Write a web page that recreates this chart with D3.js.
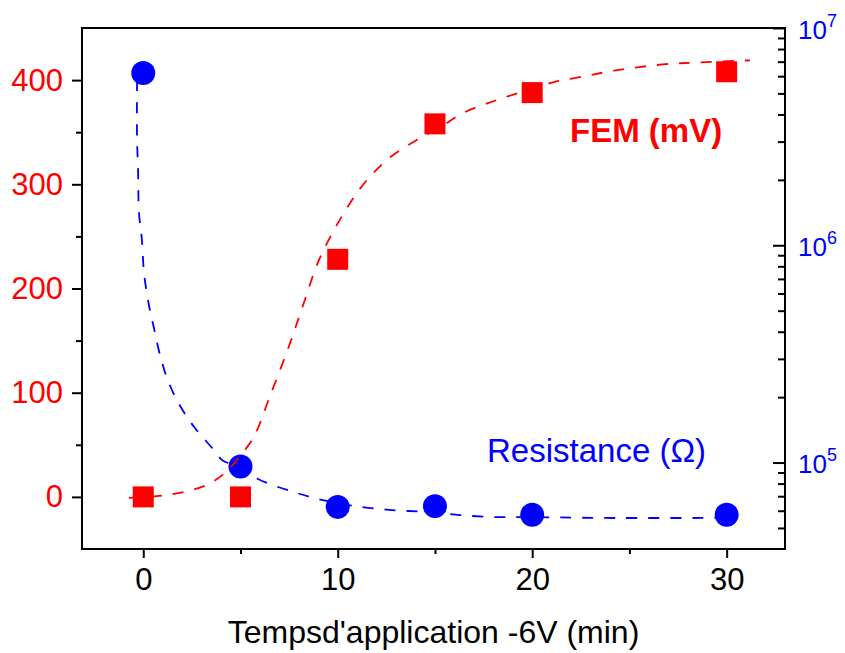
<!DOCTYPE html>
<html>
<head>
<meta charset="utf-8">
<script src="https://cdn.jsdelivr.net/npm/d3@7"></script>
<style>
  html, body { margin: 0; padding: 0; background: #fff; }
  svg text { font-family: "Liberation Sans", Arial, sans-serif; }
</style>
</head>
<body>
<svg id="chart" width="845" height="653"></svg>
<script>
// ---------- data ----------
const times = [0, 5, 10, 15, 20, 30];
const femValues = [0, 0, 228, 358, 388, 408];              // mV (left axis)
const resistanceValues = [6.2e6, 9.6e4, 6.25e4, 6.3e4, 5.75e4, 5.75e4]; // Ohm (right, log)

// fitted (dashed) curves
const femFitX = [-0.74, 1.3, 3.2, 4.2, 5.1, 5.7, 6.5, 7.5, 8.2, 9.1, 10.5, 11.5, 12.7, 14.1, 15.3, 16.4, 18.2, 19.9, 21.1, 22.5, 24.2, 26.7, 28.6, 31.2];
const femFitY = [-1, 2, 11, 23, 42, 58, 96, 145, 183, 230, 278, 304, 326, 343, 355, 368, 381, 391, 398, 403, 409, 415, 417, 419];
const resFitX = [-0.32, -0.32, -0.27, -0.22, -0.07, 0.04, 0.29, 0.55, 0.86, 1.22, 1.78, 2.61, 3.53, 4.1, 4.92, 5.9, 7.75, 9.24, 10.83, 12.78, 14.9, 16.28, 18.08, 19.93, 23.48, 30];
const resFitY = [5.75e6, 3.05e6, 2.29e6, 1.41e6, 1.06e6, 7.45e5, 5.31e5, 4.16e5, 3.13e5, 2.45e5, 1.9e5, 1.46e5, 1.17e5, 1.02e5, 9.64e4, 8.4e4, 7.31e4, 6.71e4, 6.31e4, 6.04e4, 5.91e4, 5.73e4, 5.61e4, 5.61e4, 5.56e4, 5.56e4];

const xTicks = [0, 10, 20, 30];
const xMinorTicks = [5, 15, 25];
const leftTicks = [0, 100, 200, 300, 400];
const leftMinorTicks = [50, 150, 250, 350];
const rightTicks = [1e5, 1e6, 1e7];
const rightTickExp = ["5", "6", "7"];
const rightMinorTicks = [5e4, 6e4, 7e4, 8e4, 9e4, 2e5, 3e5, 4e5, 5e5, 6e5, 7e5, 8e5, 9e5, 2e6, 3e6, 4e6, 5e6, 6e6, 7e6, 8e6, 9e6];

const xTitle = "Tempsd'application -6V (min)";
const femLabel = "FEM (mV)";
const resLabel = "Resistance (\u03A9)";

// ---------- layout ----------
const RED = "#ff0000", BLUE = "#0000ff";
const L = 82, R = 785, T = 28, B = 549;
const svg = d3.select("#chart");

const x = d3.scaleLinear().domain([-3.15, 33]).range([L, R]);
const yL = d3.scaleLinear().domain([-50, 450]).range([B, T]);
const yR = d3.scaleLog().domain([4e4, 1e7]).range([B, T]);

// frame
svg.append("rect").attr("x", L).attr("y", T).attr("width", R - L).attr("height", B - T)
  .attr("fill", "none").attr("stroke", "#000").attr("stroke-width", 2);

function styleAxis(g, color) {
  g.select(".domain").remove();
  g.selectAll(".tick line").attr("stroke", "#000").attr("stroke-width", 2);
  g.selectAll(".tick text").attr("fill", color);
}

// bottom axis
const gx = svg.append("g").attr("transform", `translate(0,${B})`)
  .call(d3.axisBottom(x).tickValues(xTicks).tickSize(9).tickPadding(10).tickFormat(d3.format("d")));
styleAxis(gx, "#000");
gx.selectAll(".tick text").style("font-size", "31px");
const gxm = svg.append("g").attr("transform", `translate(0,${B})`)
  .call(d3.axisBottom(x).tickValues(xMinorTicks).tickSize(5).tickFormat(""));
styleAxis(gxm, "#000");

// left axis
const gl = svg.append("g").attr("transform", `translate(${L},0)`)
  .call(d3.axisLeft(yL).tickValues(leftTicks).tickSize(10).tickPadding(9).tickFormat(d3.format("d")));
styleAxis(gl, RED);
gl.selectAll(".tick text").style("font-size", "31px");
const glm = svg.append("g").attr("transform", `translate(${L},0)`)
  .call(d3.axisLeft(yL).tickValues(leftMinorTicks).tickSize(6).tickFormat(""));
styleAxis(glm, RED);

// right axis (log) - ticks inward
const gr = svg.append("g").attr("transform", `translate(${R},0)`)
  .call(d3.axisRight(yR).tickValues(rightTicks).tickSize(-12).tickPadding(13).tickFormat(""));
styleAxis(gr, BLUE);
gr.selectAll(".tick").each(function(d, i) {
  const t = d3.select(this).append("text")
    .attr("x", 13).attr("y", 10).attr("fill", BLUE).attr("text-anchor", "start")
    .style("font-size", "26px");
  t.append("tspan").text("10");
  t.append("tspan").attr("dy", -12).style("font-size", "18px").text(rightTickExp[i]);
});
const grm = svg.append("g").attr("transform", `translate(${R},0)`)
  .call(d3.axisRight(yR).tickValues(rightMinorTicks).tickSize(-7).tickFormat(""));
styleAxis(grm, BLUE);

// curves
const femFit = femFitX.map((v, i) => [v, femFitY[i]]);
const resFit = resFitX.map((v, i) => [v, resFitY[i]]);
const lineFem = d3.line().x(d => x(d[0])).y(d => yL(d[1])).curve(d3.curveCatmullRom.alpha(0.5));
const lineRes = d3.line().x(d => x(d[0])).y(d => yR(d[1])).curve(d3.curveCatmullRom.alpha(0.5));

// resistance markers + curve
svg.append("path").datum(resFit).attr("d", lineRes)
  .attr("fill", "none").attr("stroke", BLUE).attr("stroke-width", 1.8).attr("stroke-dasharray", "11,11");
svg.append("g").selectAll("circle").data(times).join("circle")
  .attr("cx", d => x(d)).attr("cy", (d, i) => yR(resistanceValues[i])).attr("r", 12)
  .attr("fill", BLUE);

// FEM markers + curve
const S = 21;
svg.append("g").selectAll("rect").data(times).join("rect")
  .attr("x", d => x(d) - S / 2).attr("y", (d, i) => yL(femValues[i]) - S / 2)
  .attr("width", S).attr("height", S).attr("fill", RED);
svg.append("path").datum(femFit).attr("d", lineFem)
  .attr("fill", "none").attr("stroke", RED).attr("stroke-width", 1.8).attr("stroke-dasharray", "11,11");

// labels
svg.append("text").attr("x", (L + R) / 2).attr("y", 643).attr("text-anchor", "middle")
  .style("font-size", "32px").attr("fill", "#000").text(xTitle);
svg.append("text").attr("x", 570).attr("y", 142).attr("fill", RED)
  .style("font-size", "33px").style("font-weight", "bold").text(femLabel);
svg.append("text").attr("x", 487).attr("y", 462).attr("fill", BLUE)
  .style("font-size", "33px").text(resLabel);
</script>
</body>
</html>
